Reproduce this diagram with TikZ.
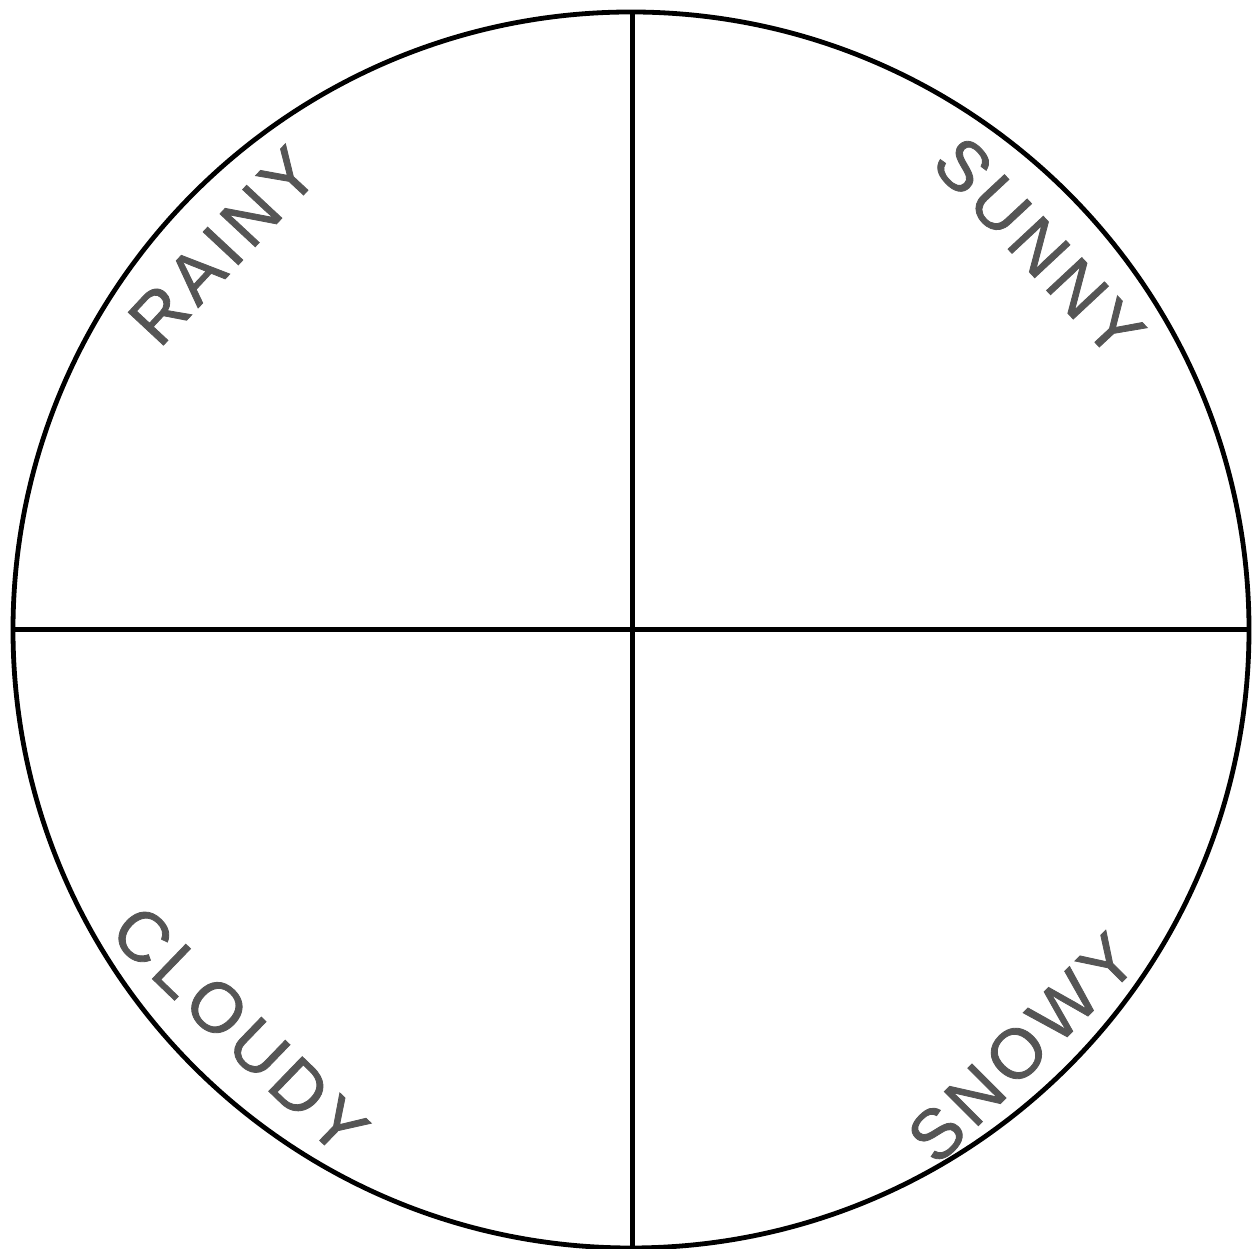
\documentclass[tikz,border=0pt]{standalone}
\usepackage{fontspec}
\newfontfamily\lblfont[LetterSpace=8.5,FakeBold=1.2]{Liberation Sans}
\definecolor{lblgray}{HTML}{555555}
\begin{document}
\begin{tikzpicture}[x=1pt,y=1pt,
  frame/.style={line width=4.8pt,black},
  axis/.style={line width=5pt,black},
  wlabel/.style={inner sep=0pt,text=lblgray,font=\lblfont\fontsize{70}{82}\selectfont}]
\useasboundingbox (0,0) rectangle (1253,1249);
\coordinate (c) at (631,619);
\draw[frame] (c) circle[radius=618];
\coordinate (top) at (632,1237);
\coordinate (bot) at (632,1);
\coordinate (lft) at (13,619);
\coordinate (rgt) at (1249,619);
\draw[axis] (top) -- (bot);
\draw[axis] (lft) -- (rgt);
\node[wlabel,rotate=47] (rainy) at (223,1003) {RAINY};
\node[wlabel,rotate=-47] (sunny) at (1039,1002) {SUNNY};
\node[wlabel,rotate=-44] (cloudy) at (240,219) {CLOUDY};
\node[wlabel,rotate=45] (snowy) at (1022,201) {SNOWY};
\end{tikzpicture}
\end{document}
